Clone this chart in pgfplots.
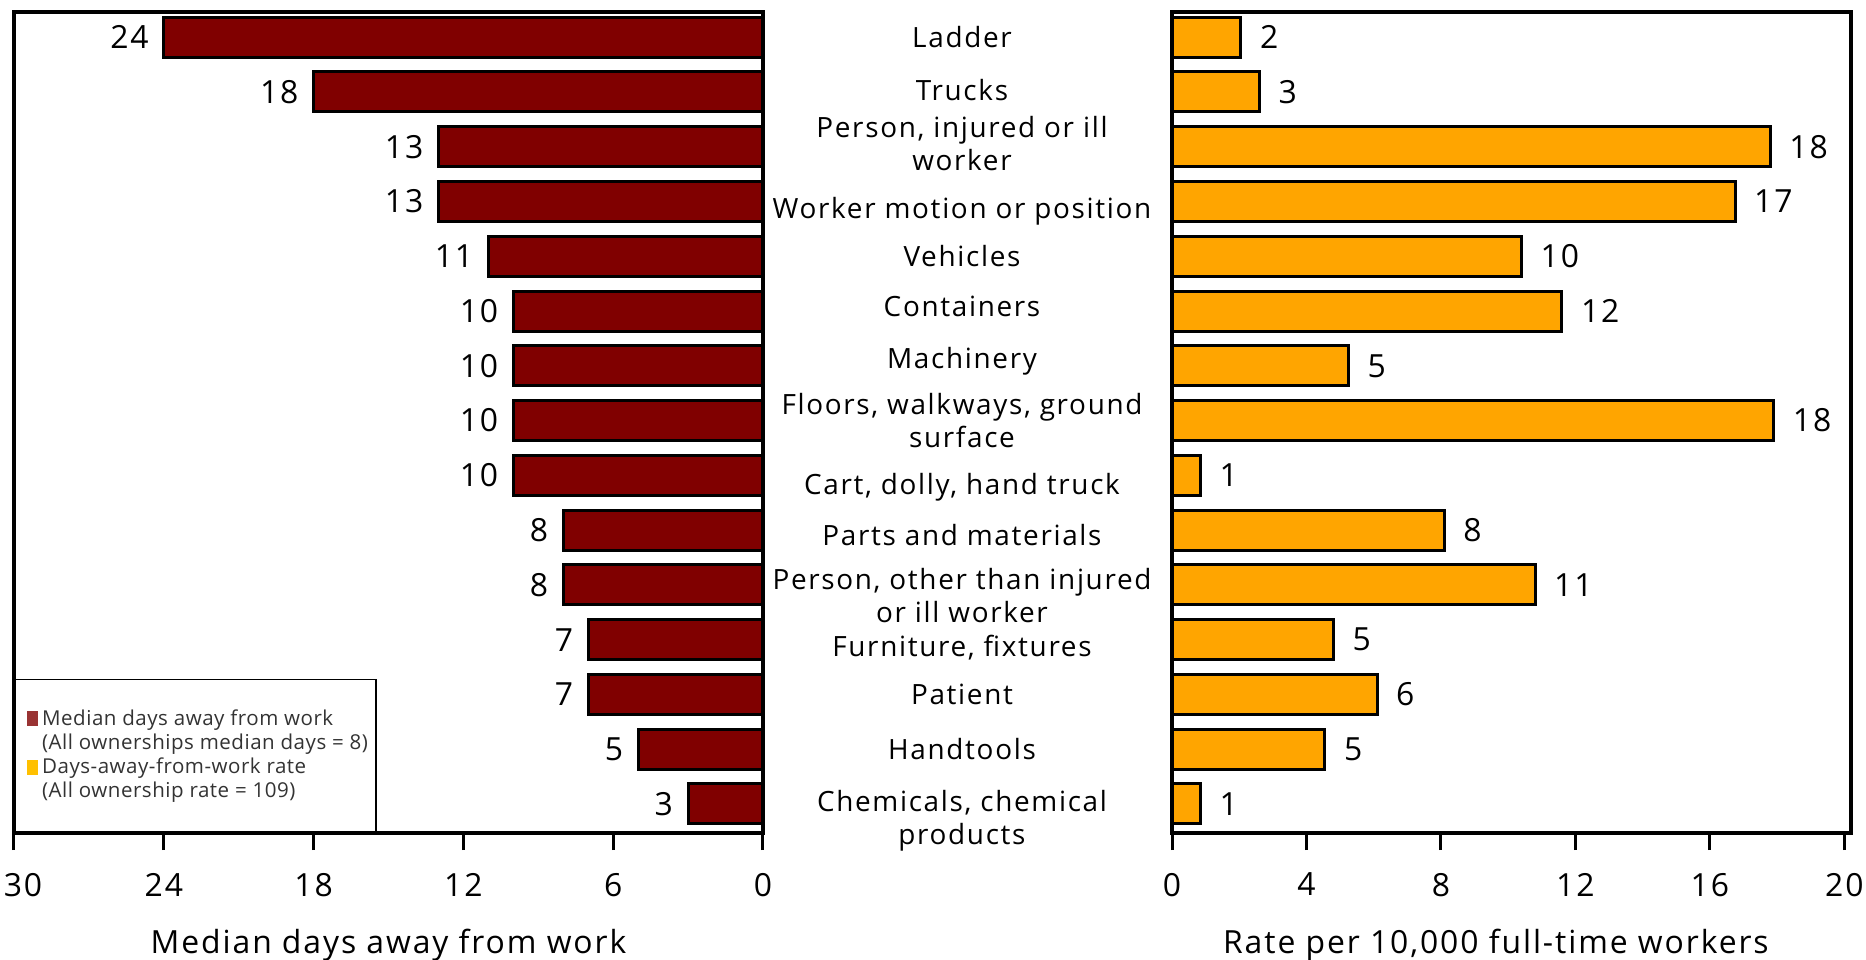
\documentclass[border=0pt]{standalone}
\usepackage{fontspec}
\setmainfont{Open Sans}[LetterSpace=6]
\newfontfamily\legfont{Open Sans}[LetterSpace=2.5]
\usepackage{pgfplots}
\usepackage{pgfplotstable}
\pgfplotsset{compat=1.18}

\definecolor{barred}{HTML}{800000}
\definecolor{barorange}{HTML}{FFA500}
\definecolor{legred}{HTML}{993333}
\definecolor{legorange}{HTML}{FFC000}

\pgfplotstableread{
idx days
0 24
1 18
2 13
3 13
4 11
5 10
6 10
7 10
8 10
9 8
10 8
11 7
12 7
13 5
14 3
}\leftdata

\pgfplotstableread{
idx rate lab
0 2.05 2
1 2.6 3
2 17.8 18
3 16.75 17
4 10.4 10
5 11.6 12
6 5.25 5
7 17.9 18
8 0.85 1
9 8.1 8
10 10.8 11
11 4.8 5
12 6.1 6
13 4.55 5
14 0.85 1
}\rightdata

\pgfplotsset{
  mybase/.style={
    scale only axis, height=410.5bp, xbar, bar width=0.73,
    y dir=reverse, ymin=-0.46, ymax=14.53,
    axis line style={line width=1.6bp},
    tick align=outside, major tick length=8.5bp,
    xtick style={line width=1.5bp, black},
    ytick style={draw=none},
    xtick pos=bottom,
    xticklabel style={font=\fontsize{16}{19}\selectfont, yshift=-8bp},
    /pgf/number format/assume math mode=true,
    xlabel style={font=\fontsize{16}{19}\selectfont, anchor=center, yshift=-56bp},
  }
}

\begin{document}
\begin{tikzpicture}
\path[use as bounding box] (0,0) rectangle (933bp,480bp);

\begin{axis}[mybase, at={(7bp,63.5bp)}, anchor=south west, width=374.5bp,
  x dir=reverse, xmin=0, xmax=30, xtick={0,6,12,18,24,30},
  xticklabels={0,6,12,18,24,\hspace*{9bp}30}, ytick=\empty,
  xlabel={Median days away from work},
  xlabel style={at={(axis description cs:0.5,0)}},
  legend style={draw=none, fill=none, at={(axis description cs:0,0)}, anchor=south west,
    xshift=3.5bp, yshift=12bp, font=\legfont\fontsize{10.3}{12.3}\selectfont, row sep=-1.2pt,
    text=black!80},
  legend cell align=left,
  ]
\addplot[forget plot, bar shift=0pt, fill=barred, draw=black, line width=1.5bp,
  nodes near coords, nodes near coords style={anchor=east, xshift=-3.5bp, font=\fontsize{16}{19}\selectfont, text=black}]
  table[x=days, y=idx] {\leftdata};
\addlegendimage{legend image code/.code={\fill[legred] (0bp,-3.5bp) rectangle (5bp,3.5bp);}}
\addlegendentry{Median days away from work}
\addlegendimage{empty legend}
\addlegendentry{(All ownerships median days = 8)}
\addlegendimage{legend image code/.code={\fill[legorange] (0bp,-3.5bp) rectangle (5bp,3.5bp);}}
\addlegendentry{Days-away-from-work rate}
\addlegendimage{empty legend}
\addlegendentry{(All ownership rate = 109)}
\draw[line width=0.8bp] (axis cs:30,14.53) -- (axis cs:15.5,14.53) -- (axis cs:15.5,11.73) -- (axis cs:30,11.73);
\end{axis}

\begin{axis}[mybase, at={(586bp,63.5bp)}, anchor=south west, width=339.5bp,
  xmin=0, xmax=20.2, xtick={0,4,...,20},
  xlabel={Rate per 10,000 full-time workers},
  xlabel style={at={(axis description cs:0.477,0)}},
  ytick={0,0.96,1.94,3.17,4,4.91,5.91,7,8.22,9.09,10.2,11.15,12,13,14.3},
  yticklabels={Ladder, Trucks, {Person, injured or ill\\worker}, Worker motion or position,
    Vehicles, Containers, Machinery, {Floors, walkways, ground\\surface},
    {Cart, dolly, hand truck}, Parts and materials, {Person, other than injured\\or ill worker},
    {Furniture, fixtures}, Patient, Handtools, {Chemicals, chemical\\products}},
  yticklabel style={anchor=center, xshift=-96.5bp, align=center, font=\fontsize{14}{16.5}\selectfont},
  ]
\addplot[fill=barorange, draw=black, line width=1.5bp, point meta=explicit symbolic,
  nodes near coords, nodes near coords style={anchor=west, xshift=5.5bp, font=\fontsize{16}{19}\selectfont, text=black}]
  table[x=rate, y=idx, meta=lab] {\rightdata};
\end{axis}
\end{tikzpicture}
\end{document}
